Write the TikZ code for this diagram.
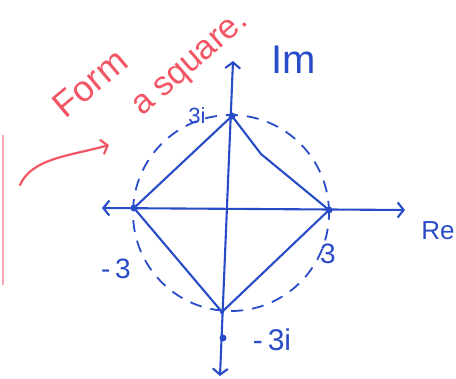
\documentclass[tikz,border=0pt]{standalone}
\usepackage{fontspec}
\setmainfont{Liberation Sans}
\usetikzlibrary{arrows.meta}
\definecolor{pen}{RGB}{40,75,200}
\definecolor{redpen}{RGB}{242,85,100}
\definecolor{pinkpen}{RGB}{250,170,180}
\begin{document}
\begin{tikzpicture}[x=1pt,y=-1pt,
  ink/.style={draw=pen,line width=2.1pt,line cap=round,line join=round},
  barb/.style={-{Straight Barb[length=6pt,width=15pt]}},
  dbarb/.style={{Straight Barb[length=6pt,width=15pt]}-{Straight Barb[length=6pt,width=15pt]}},
  dot/.style={circle,fill=pen,inner sep=0pt,minimum size=7pt},
  lbl/.style={text=pen,font=\fontsize{28}{28}\selectfont,inner sep=0pt},
  redlbl/.style={text=redpen,font=\fontsize{36}{36}\selectfont,inner sep=0pt}]
\useasboundingbox (0,0) rectangle (456,379);
% axes ends
\coordinate (reL) at (102,208);
\coordinate (reR) at (405,210);
\coordinate (imB) at (220,376);
\coordinate (imT) at (233,61);
% vertices
\node[dot] (top) at (232,116) {};
\node[dot] (left) at (134,208) {};
\node[dot] (right) at (329,210) {};
\node[dot,minimum size=4pt] (bot) at (222,312) {};
\node[dot] (m3i) at (223,338) {};
\coordinate (kink) at (261,154);
% dashed circle
\node[draw=pen,line width=1.8pt,dash pattern=on 12pt off 9pt,circle,minimum size=196pt,inner sep=0pt] (circ) at (231,213) {};
% axes
\draw[ink,dbarb] (reL) -- (reR);
\draw[ink,dbarb] (imB) -- (imT);
% square
\draw[ink] (top.center) -- (left.center) -- (bot.center) -- (right.center) -- (kink) -- (top.center);
% labels
\node[lbl,font=\fontsize{40}{40}\selectfont] (lIm) at (294,60) {Im};
\node[lbl,font=\fontsize{26}{26}\selectfont] (lRe) at (438,231) {Re};
\node[lbl,font=\fontsize{22}{22}\selectfont] (l3i) at (197,116) {3i};
\node[lbl] (lm3) at (116,269) {-\,3};
\node[lbl] (l3) at (328,254) {3};
\node[lbl,font=\fontsize{30}{30}\selectfont] (lm3i) at (272,340) {-\,3i};
% red annotations
\node[redlbl,rotate=40] (form) at (90,83) {Form};
\node[redlbl,rotate=41,font=\fontsize{34}{34}\selectfont] (sq) at (192,66) {a square.};
\coordinate (aS) at (20,185);
\coordinate (aE) at (109,145);
\draw[draw=redpen,line width=2.2pt,line cap=round,barb] (aS) .. controls (32,158) and (70,156) .. (aE);
\coordinate (rT) at (3,135);
\coordinate (rB) at (3,285);
\draw[draw=pinkpen,line width=2.5pt] (rT) -- (rB);
\end{tikzpicture}
\end{document}
